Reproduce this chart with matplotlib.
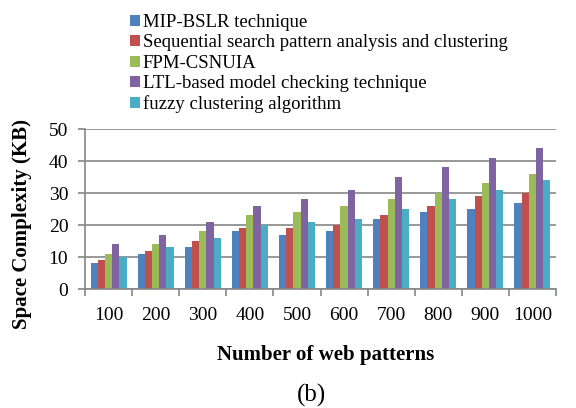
import numpy as np
import matplotlib
matplotlib.use('Agg')
import matplotlib.pyplot as plt
from matplotlib.ticker import FixedLocator

plt.rcParams['font.family'] = ['Liberation Serif', 'DejaVu Serif']

# Dados
padroes = ['100', '200', '300', '400', '500', '600', '700', '800', '900', '1000']
metodos = ['MIP-BSLR technique',
           'Sequential search pattern analysis and clustering',
           'FPM-CSNUIA',
           'LTL-based model checking technique',
           'fuzzy clustering algorithm']
mip_bslr = [8, 11, 13, 18, 17, 18, 22, 24, 25, 27]
sequential = [9, 12, 15, 19, 19, 20, 23, 26, 29, 30]
fpm_csnuia = [11, 14, 18, 23, 24, 26, 28, 30, 33, 36]
ltl = [14, 17, 21, 26, 28, 31, 35, 38, 41, 44]
fuzzy = [10, 13, 16, 20, 21, 22, 25, 28, 31, 34]

cores = ['#4F81BD', '#C0504D', '#9BBB59', '#8064A2', '#4BACC6']
series = [mip_bslr, sequential, fpm_csnuia, ltl, fuzzy]

fig = plt.figure(figsize=(5.76, 4.08), dpi=100)
ax = fig.add_axes([85 / 576, 1 - 289 / 408, 471 / 576, 160 / 408])

x = np.arange(len(padroes))
largura = 0.153
for k, (vals, cor, nome) in enumerate(zip(series, cores, metodos)):
    ax.bar(x + (k - 2) * largura, vals, largura, color=cor, label=nome, zorder=3)

ax.set_xlim(-0.5, len(padroes) - 0.5)
ax.set_ylim(0, 50)
ax.set_yticks(range(0, 51, 10))
ax.set_xticks(x)
ax.set_xticklabels(padroes)
ax.xaxis.set_minor_locator(FixedLocator(np.arange(-0.5, len(padroes), 1)))
ax.tick_params(axis='x', which='major', length=0, pad=13, labelsize=14)
ax.tick_params(axis='x', which='minor', length=5, width=1.2, color='#868686')
ax.tick_params(axis='y', length=5, width=1.2, color='#868686', labelsize=14, pad=7)

ax.grid(axis='y', color='#868686', linewidth=1.2, zorder=0)
for lado in ['top', 'right']:
    ax.spines[lado].set_visible(False)
for lado in ['left', 'bottom']:
    ax.spines[lado].set_color('#868686')
    ax.spines[lado].set_linewidth(1.2)
    ax.spines[lado].set_zorder(4)

fig.text(22 / 576, 1 - 224 / 408, 'Space Complexity (KB)', fontsize=15,
         fontweight='bold', rotation=90, ha='center', va='center')
fig.text(326 / 576, 1 - 355 / 408, 'Number of web patterns', fontsize=15,
         fontweight='bold', ha='center', va='center')
fig.text(312 / 576, 1 - 395 / 408, '(b)', fontsize=18, ha='center', va='center')

fig.legend(loc='upper left', bbox_to_anchor=(130 / 576, 1 - 14 / 408), frameon=False,
           fontsize=13.5, handlelength=0.53, handleheight=0.53, handletextpad=0.16,
           labelspacing=0.18, borderaxespad=0, borderpad=0)

fig.savefig('out.png', dpi=100)
